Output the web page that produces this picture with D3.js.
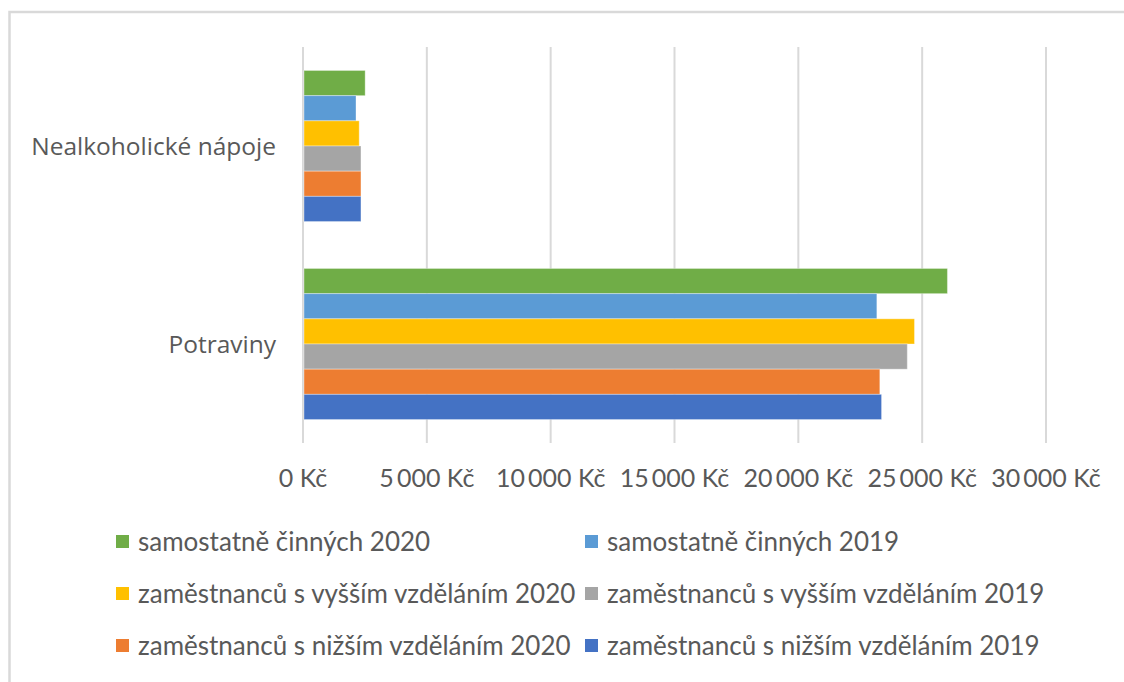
<!DOCTYPE html>
<html>
<head>
<meta charset="utf-8">
<script src="https://cdn.jsdelivr.net/npm/d3@7"></script>
<style>
  body { margin: 0; background: #fff; }
  svg { display: block; }
  .cat { font-family: "Open Sans", sans-serif; font-size: 24.5px; fill: #595959; }
  .tick-label { font-family: Lato, sans-serif; font-size: 25px; fill: #595959; }
  .legend text { font-family: Lato, sans-serif; font-size: 26px; fill: #595959; }
</style>
</head>
<body>
<div id="chart"></div>
<script>
// categories (top to bottom)
const categories = ["Nealkoholické nápoje", "Potraviny"];

// series, in the order they are stacked top to bottom inside a group
const seriesNames = [
  "samostatně činných 2020",
  "samostatně činných 2019",
  "zaměstnanců s vyšším vzděláním 2020",
  "zaměstnanců s vyšším vzděláním 2019",
  "zaměstnanců s nižším vzděláním 2020",
  "zaměstnanců s nižším vzděláním 2019"
];
const seriesColors = ["#70AD47", "#5B9BD5", "#FFC000", "#A5A5A5", "#ED7D31", "#4472C4"];

// values per series: [Nealkoholické nápoje, Potraviny]
const samostatne2020 = [2510, 26020];
const samostatne2019 = [2140, 23170];
const vyssi2020 = [2270, 24690];
const vyssi2019 = [2340, 24400];
const nizsi2020 = [2340, 23290];
const nizsi2019 = [2340, 23360];
const seriesValues = [samostatne2020, samostatne2019, vyssi2020, vyssi2019, nizsi2020, nizsi2019];

const tickValues = [0, 5000, 10000, 15000, 20000, 25000, 30000];

const width = 1124, height = 682;

let svg = d3.select("#chart").append("svg")
  .attr("width", width)
  .attr("height", height);

// chart frame
svg.append("rect")
  .attr("x", 9.5)
  .attr("y", 12)
  .attr("width", width + 20)
  .attr("height", height + 20)
  .attr("fill", "#fff")
  .attr("stroke", "#d9d9d9")
  .attr("stroke-width", 2.5);

let x = d3.scaleLinear()
  .domain([0, 30000])
  .range([303, 1046]);

let y = d3.scaleBand()
  .domain(categories)
  .range([47, 443])
  .paddingInner(0.237)
  .paddingOuter(0.1185);

let ySeries = d3.scaleBand()
  .domain(seriesNames)
  .range([0, y.bandwidth()]);

// gridlines
svg.append("g")
  .selectAll("line")
  .data(tickValues)
  .enter().append("line")
    .attr("x1", d => x(d))
    .attr("x2", d => x(d))
    .attr("y1", 47)
    .attr("y2", 443)
    .attr("stroke", "#d9d9d9")
    .attr("stroke-width", 2);

// bars
let rows = [];
seriesNames.forEach((s, i) => {
  categories.forEach((c, j) => {
    rows.push({ series: s, cat: c, value: seriesValues[i][j], color: seriesColors[i] });
  });
});

svg.append("g")
  .selectAll("rect")
  .data(rows)
  .enter().append("rect")
    .attr("x", x(0) + 1)
    .attr("y", d => y(d.cat) + ySeries(d.series))
    .attr("width", d => x(d.value) - x(0) - 1)
    .attr("height", ySeries.bandwidth())
    .attr("fill", d => d.color)
    .attr("stroke", "#fff")
    .attr("stroke-opacity", 0.35)
    .attr("stroke-width", 1);

// category labels
svg.append("g")
  .selectAll("text")
  .data(categories)
  .enter().append("text")
    .attr("class", "cat")
    .attr("x", 276)
    .attr("y", d => y(d) + y.bandwidth() / 2)
    .attr("dy", "0.35em")
    .attr("text-anchor", "end")
    .text(d => d);

// value axis labels
let fmt = d3.formatLocale({ decimal: ",", thousands: "\u2009", grouping: [3], currency: ["", " Kč"] }).format("$,.0f");

svg.append("g")
  .selectAll("text")
  .data(tickValues)
  .enter().append("text")
    .attr("class", "tick-label")
    .attr("x", d => x(d))
    .attr("y", 487)
    .attr("text-anchor", "middle")
    .text(d => fmt(d));

// legend, two columns
let legend = svg.append("g").attr("class", "legend");
let legendCols = [116, 585];
let legendRows = [542, 594, 646];

legend.selectAll("g")
  .data(seriesNames)
  .enter().append("g")
    .attr("transform", (d, i) => "translate(" + legendCols[i % 2] + "," + legendRows[Math.floor(i / 2)] + ")")
    .each(function(d, i) {
      let g = d3.select(this);
      g.append("rect")
        .attr("x", 0)
        .attr("y", -7)
        .attr("width", 13)
        .attr("height", 13)
        .attr("fill", seriesColors[i]);
      g.append("text")
        .attr("x", 22)
        .attr("dy", "0.35em")
        .text(d);
    });
</script>
</body>
</html>
